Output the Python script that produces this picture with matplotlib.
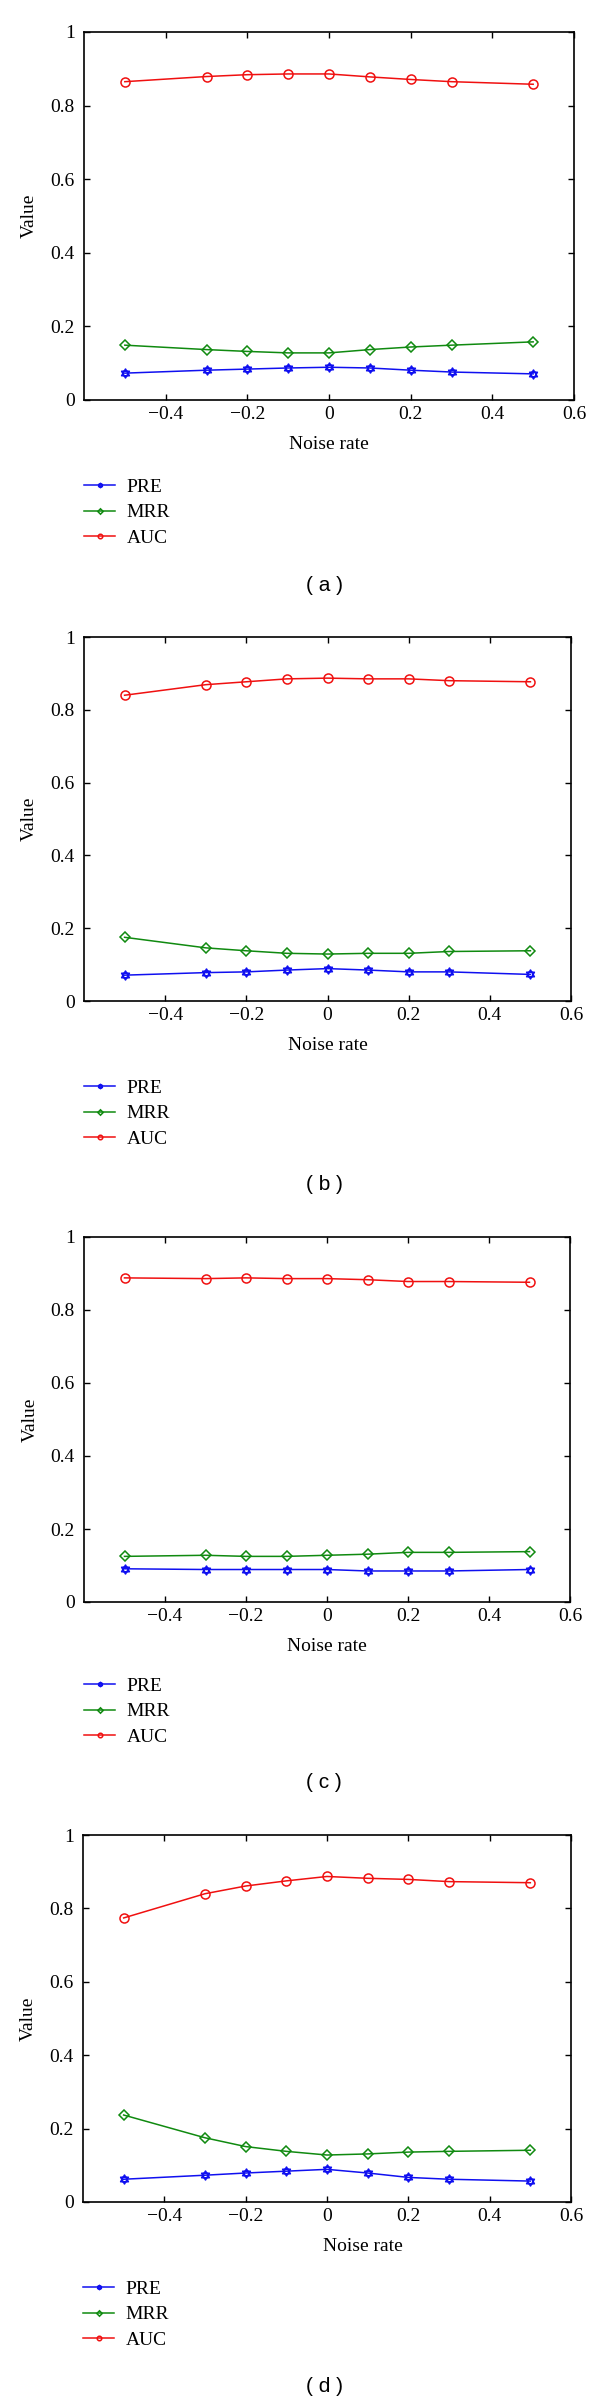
import matplotlib
matplotlib.use('Agg')
import matplotlib.pyplot as plt
from matplotlib.path import Path
from matplotlib.ticker import FuncFormatter

plt.rcParams['font.family'] = ['Liberation Serif', 'DejaVu Serif']

# noise rates on the x axis
noise = [-0.5, -0.3, -0.2, -0.1, 0, 0.1, 0.2, 0.3, 0.5]
series_names = ['PRE', 'MRR', 'AUC']
panel_names = ['( a )', '( b )', '( c )', '( d )']

pre_a = [0.073, 0.081, 0.084, 0.087, 0.089, 0.087, 0.081, 0.076, 0.071]
mrr_a = [0.149, 0.137, 0.132, 0.128, 0.128, 0.137, 0.144, 0.149, 0.158]
auc_a = [0.865, 0.879, 0.884, 0.886, 0.886, 0.878, 0.871, 0.865, 0.858]

pre_b = [0.071, 0.078, 0.080, 0.085, 0.089, 0.085, 0.080, 0.080, 0.073]
mrr_b = [0.175, 0.146, 0.138, 0.131, 0.129, 0.131, 0.131, 0.136, 0.138]
auc_b = [0.840, 0.869, 0.877, 0.885, 0.887, 0.885, 0.885, 0.880, 0.877]

pre_c = [0.091, 0.089, 0.089, 0.089, 0.089, 0.085, 0.085, 0.085, 0.089]
mrr_c = [0.125, 0.128, 0.125, 0.125, 0.128, 0.131, 0.136, 0.136, 0.138]
auc_c = [0.888, 0.886, 0.888, 0.886, 0.886, 0.883, 0.878, 0.878, 0.876]

pre_d = [0.062, 0.073, 0.079, 0.084, 0.089, 0.079, 0.067, 0.062, 0.057]
mrr_d = [0.237, 0.175, 0.151, 0.138, 0.128, 0.131, 0.136, 0.138, 0.141]
auc_d = [0.774, 0.840, 0.861, 0.875, 0.887, 0.882, 0.879, 0.873, 0.870]

panels = [(pre_a, mrr_a, auc_a), (pre_b, mrr_b, auc_b),
          (pre_c, mrr_c, auc_c), (pre_d, mrr_d, auc_d)]

# two crossed triangles, like the star marker of the original
s = 0.866
hexagram = Path([(0, 1), (-s, -0.5), (s, -0.5), (0, 1),
                 (0, -1), (-s, 0.5), (s, 0.5), (0, -1)],
                [Path.MOVETO, Path.LINETO, Path.LINETO, Path.CLOSEPOLY,
                 Path.MOVETO, Path.LINETO, Path.LINETO, Path.CLOSEPOLY])

colors = ['#1010f0', '#108a10', '#f01010']
markers = [hexagram, 'D', 'o']
msizes = [6.5, 5.5, 6.5]

W, H = 600, 2408
fig = plt.figure(figsize=(6, 24.08), dpi=100)

# axes boxes in pixels: left, right, top, bottom
boxes = [(84, 574, 32, 400), (84, 571, 637, 1001),
         (84, 570, 1237, 1602), (83, 571, 1835, 2202)]
legend_top = [478, 1079, 1677, 2280]
label_y = [585, 1185, 1783, 2386]
xlabel_x = [0.5, 0.5, 0.5, 0.574]


def fmt(v, pos):
    t = '%g' % round(v, 2)
    return t.replace('-', '\u2212')


for i, (l, r, t, b) in enumerate(boxes):
    ax = fig.add_axes([l / W, 1 - b / H, (r - l) / W, (b - t) / H])
    lines = []
    for j, ys in enumerate(panels[i]):
        ln, = ax.plot(noise, ys, color=colors[j], lw=1.1, marker=markers[j],
                      markersize=msizes[j], markerfacecolor='none',
                      markeredgecolor=colors[j], markeredgewidth=1.1)
        lines.append(ln)
    ax.set_xlim(-0.6, 0.6)
    ax.set_ylim(0, 1)
    ax.set_xticks([-0.4, -0.2, 0, 0.2, 0.4, 0.6])
    ax.set_yticks([0, 0.2, 0.4, 0.6, 0.8, 1])
    ax.xaxis.set_major_formatter(FuncFormatter(fmt))
    ax.yaxis.set_major_formatter(FuncFormatter(fmt))
    ax.tick_params(direction='in', top=True, right=True, length=4.5,
                   width=1, labelsize=14)
    ax.tick_params(axis='x', pad=4.5)
    ax.tick_params(axis='y', pad=6.5)
    for sp in ax.spines.values():
        sp.set_linewidth(1.2)
    ax.set_xlabel('Noise rate', fontsize=14)
    ax.set_ylabel('Value', fontsize=14)
    ax.xaxis.set_label_coords(xlabel_x[i], -0.098)
    ax.yaxis.set_label_coords(-0.094, 0.5)

    fig.legend(lines, series_names, loc='upper left',
               bbox_to_anchor=(l / W, 1 - legend_top[i] / H),
               frameon=False, fontsize=14, borderpad=0, borderaxespad=0,
               handlelength=1.6, handletextpad=0.6, labelspacing=0.42,
               markerscale=0.5)
    fig.text(324 / W, 1 - label_y[i] / H, panel_names[i], ha='center',
             va='center', fontsize=15, family=['Liberation Sans', 'DejaVu Sans'])

fig.savefig('out.png', dpi=100)
